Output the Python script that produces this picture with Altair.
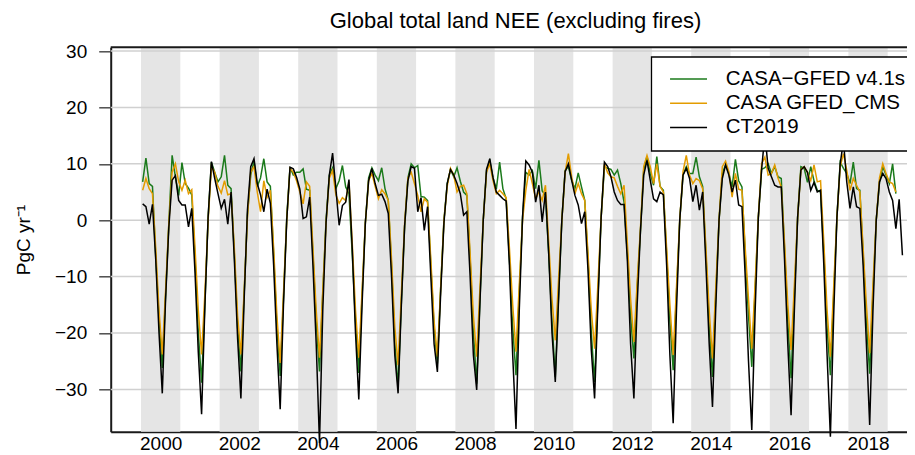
import altair as alt
import pandas as pd

# ---------------- data (monthly, Jan 2000 onward) ----------------
series_names = ["CASA\u2212GFED v4.1s", "CASA GFED_CMS", "CT2019"]
series_colors = ["#1b7a1b", "#e39c00", "#000000"]

band_years = [2000, 2002, 2004, 2006, 2008, 2010, 2012, 2014, 2016, 2018]
tick_years = [2000, 2002, 2004, 2006, 2008, 2010, 2012, 2014, 2016, 2018]
y_ticks = [-30, -20, -10, 0, 10, 20, 30]
title_text = ["Global total land NEE (excluding fires)"]

casa_gfed = [
    6.8, 11.0, 6.5, 6.0, -6.5, -17.5, -26.2, -13.5, -0.6, 11.5, 7.7, 4.4,   # 2000
    10.2, 6.5, 5.7, 4.5, -7.0, -20.0, -28.8, -15.0, 0.5, 10.3, 8.5, 6.8,    # 2001
    7.7, 11.5, 6.2, 5.6, -6.0, -19.0, -26.8, -13.0, 1.0, 8.0, 10.5, 6.0,    # 2002
    7.5, 10.9, 6.8, 6.0, -6.0, -19.0, -27.6, -14.0, 0.5, 9.4, 8.0, 8.5,     # 2003
    8.5, 9.1, 5.5, 5.3, -6.0, -18.0, -26.8, -13.0, 0.0, 8.0, 9.3, 5.6,      # 2004
    7.0, 9.7, 5.9, 4.7, -6.0, -18.0, -27.1, -13.5, -0.5, 7.5, 9.3, 8.0,     # 2005
    7.0, 9.3, 5.6, 3.5, -8.0, -22.0, -29.5, -14.5, -1.0, 7.5, 10.0, 9.3,    # 2006
    9.7, 4.2, 4.1, 3.5, -8.0, -19.0, -25.4, -12.0, 0.0, 6.5, 9.0, 7.7,      # 2007
    9.3, 6.9, 5.0, 4.4, -7.0, -20.0, -29.0, -14.0, 0.0, 8.8, 10.5, 7.5,     # 2008
    5.5, 10.3, 5.6, 3.8, -7.0, -19.0, -27.5, -13.0, 0.5, 8.5, 8.0, 8.8,     # 2009
    5.6, 10.6, 5.2, 4.4, -6.0, -18.0, -27.8, -13.5, 0.0, 8.8, 9.5, 7.1,     # 2010
    5.6, 8.4, 5.9, 3.5, -7.0, -20.0, -28.7, -14.0, 0.5, 9.5, 9.2, 9.0,      # 2011
    8.0, 8.9, 6.5, 3.2, -6.0, -17.0, -24.5, -12.0, -2.0, 9.0, 11.3, 8.3,    # 2012
    6.2, 11.3, 6.0, 5.3, -6.0, -18.0, -26.6, -13.0, 0.0, 8.0, 9.5, 8.3,     # 2013
    8.3, 11.2, 7.7, 6.0, -6.0, -19.0, -27.8, -13.5, 0.0, 8.3, 9.8, 8.3,     # 2014
    5.9, 10.8, 7.0, 5.9, -6.0, -17.0, -26.0, -12.5, 0.5, 9.0, 9.3, 10.0,    # 2015
    8.3, 9.5, 7.7, 7.4, -5.0, -18.0, -28.0, -13.5, 0.5, 9.5, 9.2, 6.7,      # 2016
    9.5, 7.0, 5.3, 5.0, -6.0, -19.0, -27.5, -13.5, 0.5, 10.3, 9.2, 8.3,     # 2017
    6.5, 10.3, 5.6, 5.3, -6.0, -18.0, -27.2, -13.0, 0.0, 6.8, 9.5, 8.0,     # 2018
    6.5, 10.0, 4.7,                                                          # 2019
]

casa_cms = [
    5.3, 7.4, 5.6, 4.7, -5.0, -16.0, -23.8, -12.5, -0.5, 8.5, 10.0, 6.8,    # 2000
    5.3, 7.1, 4.7, 5.4, -5.0, -16.0, -23.8, -13.0, 0.0, 9.5, 8.5, 6.0,      # 2001
    4.8, 7.0, 4.5, 4.7, -5.0, -17.0, -23.8, -12.5, 0.5, 8.5, 9.5, 5.0,      # 2002
    1.5, 7.0, 4.0, 5.3, -5.0, -17.0, -25.3, -13.0, 0.0, 9.2, 8.5, 7.0,      # 2003
    5.0, 2.9, 6.8, 6.0, -5.0, -16.0, -24.4, -12.5, -0.5, 7.5, 8.8, 4.5,     # 2004
    3.0, 4.0, 3.5, 6.8, -4.0, -16.0, -24.4, -12.5, -0.5, 7.0, 8.3, 6.0,     # 2005
    3.8, 5.4, 4.7, 3.5, -7.0, -19.0, -25.7, -13.0, -0.5, 7.5, 8.5, 6.5,     # 2006
    4.4, 1.5, 3.8, 3.2, -7.0, -18.0, -24.2, -12.0, 0.0, 6.0, 9.2, 8.0,      # 2007
    5.0, 6.0, 6.2, 4.7, -6.0, -17.0, -24.2, -12.0, 0.0, 8.5, 10.0, 7.0,     # 2008
    4.7, 5.3, 4.7, 4.0, -5.0, -15.0, -23.3, -11.5, 0.0, 5.3, 9.0, 6.5,      # 2009
    3.8, 5.0, 3.5, 6.2, -4.0, -14.0, -21.3, -10.5, 0.0, 8.5, 11.8, 7.7,     # 2010
    4.7, 6.5, 4.7, 3.5, -6.0, -16.0, -22.8, -11.5, 0.5, 10.0, 8.4, 7.7,     # 2011
    7.5, 6.0, 4.7, 6.2, -4.0, -14.0, -21.6, -11.0, -1.5, 9.5, 11.5, 9.5,    # 2012
    6.5, 10.0, 6.0, 5.0, -5.0, -15.0, -23.9, -12.0, 0.0, 8.6, 11.5, 8.0,    # 2013
    6.5, 7.4, 7.0, 5.6, -5.0, -16.0, -24.5, -12.0, 0.0, 9.5, 10.5, 8.6,     # 2014
    4.1, 8.3, 5.5, 5.3, -5.0, -14.0, -22.8, -11.5, 0.5, 10.0, 11.2, 8.0,    # 2015
    8.3, 9.8, 7.5, 5.9, -4.0, -15.0, -23.0, -11.5, 0.5, 9.0, 9.5, 8.5,      # 2016
    7.0, 9.8, 6.8, 7.0, -4.0, -16.0, -24.2, -12.0, 0.5, 9.5, 11.8, 8.9,     # 2017
    5.3, 7.4, 6.2, 5.0, -5.0, -15.0, -23.6, -11.5, 0.0, 7.5, 10.0, 8.3,     # 2018
    6.8, 6.5, 5.0,                                                           # 2019
]

ct2019 = [
    2.9, 2.4, -0.7, 2.8, -7.0, -20.0, -30.7, -14.0, -1.2, 7.1, 7.9, 3.5,    # 2000
    2.7, 2.7, -1.2, 2.1, -9.4, -23.5, -34.4, -15.3, 0.6, 10.4, 7.4, 4.7,    # 2001
    2.1, 3.7, -0.7, 5.0, -7.0, -21.0, -31.6, -14.0, 1.8, 9.5, 10.9, 6.5,    # 2002
    4.5, 1.5, 5.5, 3.0, -8.0, -22.0, -33.5, -15.0, 0.0, 9.4, 9.1, 7.6,      # 2003
    5.5, 0.3, 0.6, 4.1, -8.0, -22.0, -39.5, -16.0, -0.5, 8.0, 11.9, 5.6,    # 2004
    -0.9, 2.6, 3.2, 7.2, -5.0, -20.0, -31.8, -15.0, -0.5, 7.0, 9.2, 6.5,    # 2005
    4.4, 4.6, 3.3, 1.2, -10.0, -24.0, -30.7, -15.0, -1.0, 7.0, 9.5, 9.2,    # 2006
    1.5, 4.0, -1.8, 2.4, -10.0, -22.0, -26.9, -13.0, -0.5, 6.5, 9.0, 8.0,   # 2007
    6.5, 4.7, 0.9, 1.5, -10.0, -24.0, -30.1, -14.5, 0.0, 9.0, 10.9, 7.5,    # 2008
    5.0, 4.4, 3.8, 3.4, -8.0, -24.0, -37.0, -16.0, 0.5, 10.5, 9.8, 8.5,     # 2009
    3.2, 6.2, -0.3, 5.0, -6.0, -20.0, -28.7, -14.0, 0.0, 8.6, 10.0, 7.1,    # 2010
    4.4, 2.7, -0.6, 1.5, -9.0, -23.0, -31.6, -15.0, 0.5, 10.3, 9.5, 7.7,    # 2011
    5.0, 3.5, 2.8, 2.8, -7.0, -22.0, -31.6, -15.0, -2.0, 8.0, 10.6, 7.1,    # 2012
    3.8, 3.3, 5.0, 4.5, -8.0, -24.0, -36.0, -16.0, 0.0, 8.0, 9.2, 7.4,      # 2013
    3.3, 6.2, 1.8, 5.0, -8.0, -22.0, -33.1, -15.5, 0.0, 7.4, 9.8, 8.0,      # 2014
    5.0, 7.1, 2.7, 2.4, -10.0, -25.0, -37.2, -16.5, 0.5, 9.0, 15.3, 9.2,    # 2015
    7.7, 6.2, 5.9, 5.9, -7.0, -22.0, -34.6, -16.0, 0.5, 8.9, 9.5, 8.5,      # 2016
    5.3, 6.7, 5.0, 5.3, -8.0, -24.0, -38.4, -17.0, 0.5, 10.0, 14.1, 6.8,    # 2017
    2.1, 5.9, 2.4, 2.1, -8.0, -22.0, -36.3, -16.0, 0.0, 6.8, 8.3, 7.4,      # 2018
    5.0, 3.5, -1.5, 3.7, -6.2,                                               # 2019
]

# ---------------- tables ----------------
rows = []
for name, vals in zip(series_names, [casa_gfed, casa_cms, ct2019]):
    for i, v in enumerate(vals):
        rows.append({"series": name, "t": 2000 + (i + 0.5) / 12.0, "nee": v})
lines_df = pd.DataFrame(rows)

bands_df = pd.DataFrame({"start": band_years, "end": [y + 1 for y in band_years]})
grid_df = pd.DataFrame({"v": y_ticks})
title_df = pd.DataFrame({"label": title_text})

# ---------------- layout ----------------
W = 796.3
H = 384.4
FONT = "Liberation Sans"

xscale = alt.Scale(domain=[1999.229, 2019.491], nice=False, zero=False)
yscale = alt.Scale(domain=[-37.5, 30.66], nice=False, zero=False)

xaxis = alt.Axis(
    values=[y + 0.5 for y in tick_years],
    labelExpr="format(floor(datum.value), 'd')",
    title=None, grid=False, ticks=False, tickSize=0,
    domain=True, domainColor="#1a1a1a", domainWidth=2,
    labelFont=FONT, labelFontSize=19, labelColor="#000000",
    labelPadding=3, labelAngle=0,
)
yaxis = alt.Axis(
    values=y_ticks, grid=False,
    domain=True, domainColor="#1a1a1a", domainWidth=2,
    ticks=True, tickSize=12, tickWidth=1.5, tickColor="#4d4d4d",
    labelFont=FONT, labelFontSize=19, labelColor="#000000", labelPadding=12,
    title="PgC yr\u207b\u00b9", titleFont=FONT, titleFontSize=19,
    titleFontWeight="normal", titleColor="#000000",
    titleX=-81, titleY=H / 2, titleBaseline="alphabetic", titleAngle=270,
)

bands = alt.Chart(bands_df).mark_rect(color="#e5e5e5").encode(
    x=alt.X("start:Q", scale=xscale, axis=xaxis),
    x2="end:Q",
    y=alt.value(0),
    y2=alt.value(H),
)

grid = alt.Chart(grid_df).mark_rule(color="#d0d0d0", strokeWidth=1.5).encode(
    y=alt.Y("v:Q", scale=yscale, axis=yaxis),
    x=alt.value(0),
    x2=alt.value(W),
)

top_frame = alt.Chart(title_df).mark_rule(color="#1a1a1a", strokeWidth=2).encode(
    x=alt.value(0), x2=alt.value(W), y=alt.value(0)
)

title_mark = alt.Chart(title_df).mark_text(
    font=FONT, fontSize=22, color="#000000", align="center", baseline="alphabetic"
).encode(
    text="label:N",
    x=alt.value(404.8),
    y=alt.value(-19.3),
)

lines = alt.Chart(lines_df).mark_line(strokeWidth=1.5, clip=False).encode(
    x=alt.X("t:Q", scale=xscale, axis=xaxis),
    y=alt.Y("nee:Q", scale=yscale, axis=yaxis),
    color=alt.Color(
        "series:N",
        scale=alt.Scale(domain=series_names, range=series_colors),
        sort=series_names,
        legend=alt.Legend(
            orient="none", legendX=540.6, legendY=9.5, title=None,
            strokeColor="#000000", fillColor="#ffffff", padding=12,
            symbolType="M-2,0H2", symbolSize=342, symbolStrokeWidth=1.4,
            symbolOffset=15, labelOffset=27,
            labelFont=FONT, labelFontSize=20.5, labelColor="#000000",
            rowPadding=3.2, labelLimit=400,
        ),
    ),
)

chart = alt.layer(bands, grid, top_frame, lines, title_mark).properties(
    width=W,
    height=H,
    autosize=alt.AutoSizeParams(type="none"),
    padding={"left": 102.7, "top": 39.3, "right": 0, "bottom": 23},
).configure_view(stroke=None).configure_legend(strokeWidth=1.3)

chart.save("out.html", embed_options={"renderer": "svg", "actions": False})
